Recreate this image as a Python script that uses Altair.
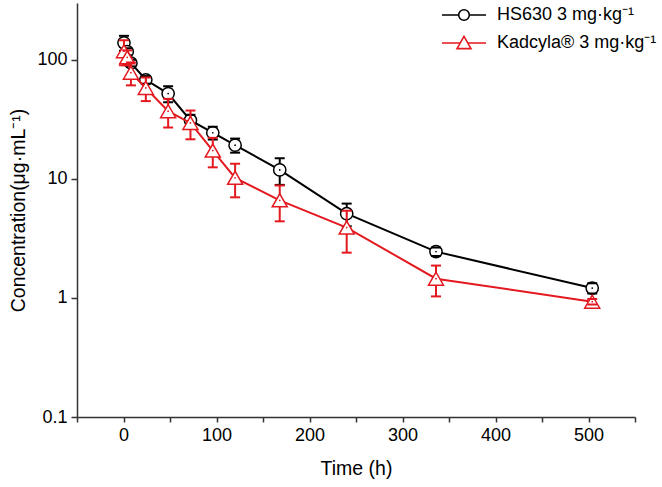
import altair as alt
import pandas as pd

# ---- data ----
times = [0.5, 4, 8, 24, 48, 72, 96, 120, 168, 240, 336, 504]
hs_mean = [139, 117, 94, 68, 52, 31, 24.4, 19.2, 11.9, 5.1, 2.45, 1.21]
hs_sd = [20, 8, 6, 5, 8, 3.5, 3, 2.6, 3, 1.1, 0.2, 0.12]
kad_mean = [118, 105, 78, 58, 37, 29.5, 17.3, 10.2, 6.6, 3.9, 1.45, 0.93]
kad_sd = [28, 15, 17, 13, 10, 8, 4.8, 3.2, 2.2, 1.5, 0.42, 0.05]

series = ["HS630 3 mg·kg⁻¹", "Kadcyla® 3 mg·kg⁻¹"]
colors = ["#000000", "#e3191f"]
shapes = ["circle", "triangle-up"]
sizes = [150, 225]

x_ticks = [-50, 0, 50, 100, 150, 200, 250, 300, 350, 400, 450, 500, 550]
y_ticks = [0.1, 1, 10, 100]

rows = []
for name, means, sds in ((series[0], hs_mean, hs_sd), (series[1], kad_mean, kad_sd)):
    for t, m, s in zip(times, means, sds):
        rows.append({"time": t, "conc": m, "lo": m - s, "hi": m + s, "series": name})
df = pd.DataFrame(rows)

FONT = "Liberation Sans"

x_scale = alt.Scale(domain=[-50, 550], nice=False, zero=False)
y_scale = alt.Scale(type="log", domain=[0.1, 300], nice=False)

x_axis = alt.Axis(values=x_ticks, labelExpr="datum.value % 100 == 0 ? format(datum.value, 'd') : ''",
                  title="Time (h)", tickSize=5, labelPadding=4, titlePadding=15)
y_axis = alt.Axis(values=y_ticks, format=".1~f", title="Concentration(μg·mL⁻¹)",
                  tickSize=6, labelPadding=4, titlePadding=8)


def X():
    return alt.X("time:Q", scale=x_scale, axis=x_axis)


def Y(field):
    return alt.Y(field, scale=y_scale, axis=y_axis)


base = alt.Chart(df)
layers = []
for name, col, shp, sz in zip(series, colors, shapes, sizes):
    sub = base.transform_filter(alt.datum.series == name)
    layers.append(sub.mark_line(color=col, strokeWidth=2).encode(x=X(), y=Y("conc:Q")))
    layers.append(sub.mark_rule(color=col, strokeWidth=2).encode(x=X(), y=Y("lo:Q"), y2="hi:Q"))
    layers.append(sub.mark_point(shape=shp, size=sz, filled=False, fill="white", fillOpacity=1,
                                 stroke=col, strokeWidth=1.5, opacity=1).encode(x=X(), y=Y("conc:Q")))
    layers.append(sub.mark_point(shape="circle", size=3, filled=True, color=col, opacity=1)
                  .encode(x=X(), y=Y("conc:Q")))
    layers.append(sub.transform_fold(["lo", "hi"], as_=["bound", "val"])
                  .mark_tick(color=col, thickness=2, size=10, orient="horizontal", opacity=1)
                  .encode(x=X(), y=Y("val:Q")))

# legend symbols: line - marker - line (custom paths in units of r = sqrt(size)/2)
path_circle = ("M-3.15,0L-0.78,0M0.78,0L3.15,0"
               "M-0.76,0A0.76,0.76,0,1,1,0.76,0A0.76,0.76,0,1,1,-0.76,0Z")
path_tri = ("M-3.15,0L-0.55,0M0.55,0L3.15,0"
            "M0,-0.95L1,0.8L-1,0.8Z")

legend = alt.Legend(title=None, orient="none", legendX=378, legendY=3, symbolSize=196,
                    symbolStrokeWidth=1.6, labelFontSize=18, labelFont=FONT, labelColor="#000",
                    labelOffset=24, rowPadding=9, padding=0, labelLimit=400)
legend_layer = base.transform_filter("false").mark_point(filled=False, strokeWidth=1.6, opacity=1).encode(
    x=X(), y=Y("conc:Q"),
    color=alt.Color("series:N", scale=alt.Scale(domain=series, range=colors), legend=legend),
    shape=alt.Shape("series:N", scale=alt.Scale(domain=series, range=[path_circle, path_tri]), legend=legend),
)
layers.append(legend_layer)

chart = alt.layer(*layers).properties(
    width=558, height=414,
    autosize=alt.AutoSizeParams(type="none"),
    padding={"left": 77, "top": 3, "right": 27, "bottom": 70},
).configure_view(stroke=None).configure_axis(
    grid=False, domainColor="#333", tickColor="#333", domainWidth=1.5, tickWidth=1.5,
    labelFont=FONT, titleFont=FONT, labelFontSize=18, titleFontSize=19.5,
    labelColor="#000", titleColor="#000", titleFontWeight="normal",
)

chart.save("out.html", embed_options={"renderer": "svg", "actions": False})
